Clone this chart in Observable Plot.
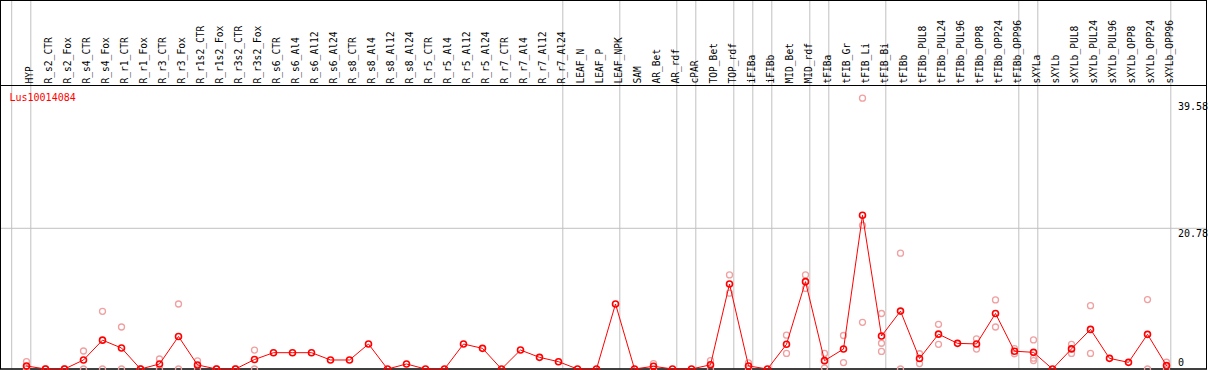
<!DOCTYPE html>
<html><head><meta charset="utf-8">
<script src="https://cdn.jsdelivr.net/npm/d3@7"></script>
<script src="https://cdn.jsdelivr.net/npm/@observablehq/plot@0.6"></script>
<style>body{margin:0;background:#fff} svg{display:block}</style>
</head><body><div id="chart"></div>
<script>
const geneId = "Lus10014084";
const samples = ["HYP","R_s2_CTR","R_s2_Fox","R_s4_CTR","R_s4_Fox","R_r1_CTR","R_r1_Fox","R_r3_CTR","R_r3_Fox",
  "R_r1s2_CTR","R_r1s2_Fox","R_r3s2_CTR","R_r3s2_Fox","R_s6_CTR","R_s6_Al4","R_s6_Al12","R_s6_Al24",
  "R_s8_CTR","R_s8_Al4","R_s8_Al12","R_s8_Al24","R_r5_CTR","R_r5_Al4","R_r5_Al12","R_r5_Al24",
  "R_r7_CTR","R_r7_Al4","R_r7_Al12","R_r7_Al24","LEAF_N","LEAF_P","LEAF_NPK","SAM","AR_Bet","AR_rdf",
  "cPAR","TOP_Bet","TOP_rdf","iFIBa","iFIBb","MID_Bet","MID_rdf","tFIBa","tFIB_Gr","tFIB_Li","tFIB_Bi",
  "tFIBb","tFIBb_PUL8","tFIBb_PUL24","tFIBb_PUL96","tFIBb_OPP8","tFIBb_OPP24","tFIBb_OPP96",
  "sXYLa","sXYLb","sXYLb_PUL8","sXYLb_PUL24","sXYLb_PUL96","sXYLb_OPP8","sXYLb_OPP24","sXYLb_OPP96"];
const means = [0.45,0,0,1.33,4.26,3.1,0,0.74,4.8,
  0.6,0,0,1.4,2.41,2.41,2.41,1.33,
  1.33,3.69,0,0.74,0,0,3.69,3.05,
  0,2.8,1.72,1.08,0,0,9.6,0,0.4,0,
  0,0.62,12.55,0.45,0,3.65,12.9,1.23,2.95,22.7,4.87,
  8.55,1.55,5.15,3.79,3.7,8.2,2.63,
  2.46,0,2.97,5.85,1.57,0.98,5.12,0.5];
const replicates = [[1.1,0.25,0],[0,0],[0,0],[2.66,0],[8.52,0],[6.2,0],[0,0],[1.48,0],[9.6,0],
  [1.2,0],[0,0],[0,0],[2.8,0],[],[],[],[],
  [],[],[],[],[],[],[],[],
  [],[],[],[],[],[],[],[],[0.8,0],[],
  [],[1.25,0],[13.9,11.2],[0.9,0],[],[5.0,2.3],[13.9,11.9],[2.3,0.15],[4.95,0.95],[40.0,21.2,6.9],[8.2,3.8,2.6],
  [17.1,0],[2.25,0.8],[6.6,3.65],[],[4.45,2.95],[10.2,6.2],[3.0,2.25],
  [4.3,1.6,1.25],[],[3.64,2.3],[9.35,2.3],[],[],[10.25,0],[1.0,0]];
const separators = ["HYP","R_r7_Al24","LEAF_NPK","AR_rdf","cPAR","TOP_rdf","iFIBa","iFIBb","MID_rdf","tFIBa","tFIB_Bi","tFIBb_OPP96","sXYLa","sXYLb_OPP96"];
const yTicks = [39.58, 20.78];
const yZero = [0];

const meanData = samples.map((s, i) => ({sample: s, value: means[i]}));
const repData = samples.flatMap((s, i) => replicates[i].map(v => ({sample: s, value: v})));
const font = "'DejaVu Sans Mono', monospace";

const chart = Plot.plot({
  width: 1209, height: 370,
  marginTop: 85, marginBottom: 1.5, marginLeft: 0, marginRight: 3,
  x: {type: "point", domain: samples, range: [25.4, 1166.1], padding: 0, axis: null},
  y: {domain: [0, 39.58], range: [368.5, 100.5], axis: null},
  style: {fontFamily: font, fontSize: "9.6px", background: "white", overflow: "visible"},
  marks: [
    Plot.ruleY([20.78], {stroke: "#c0c0c0"}),
    Plot.ruleX(separators, {dx: 4.3, stroke: "#c0c0c0", insetTop: -85}),
    Plot.ruleX([samples[0]], {dx: -14.8, stroke: "#c0c0c0", insetTop: -85}),
    Plot.frame({stroke: "black"}),
    Plot.frame({stroke: "black", insetTop: -85}),
    Plot.text(samples, {x: d => d, text: d => d, frameAnchor: "top", rotate: -90, textAnchor: "start", dy: -2, fill: "black"}),
    Plot.text([geneId], {text: d => d, frameAnchor: "top-left", textAnchor: "start", lineAnchor: "top", dx: 9, dy: 8, fill: "red", fontSize: 10}),
    Plot.text(yTicks, {y: d => d, text: d => String(d), frameAnchor: "right", textAnchor: "start", lineAnchor: "top", dx: -28.5, dy: 2, fill: "black", fontSize: 10}),
    Plot.text(yZero, {y: d => d, text: d => String(d), frameAnchor: "right", textAnchor: "start", lineAnchor: "bottom", dx: -28.5, dy: -3, fill: "black", fontSize: 10}),
    Plot.dot(repData, {x: "sample", y: "value", r: 3, stroke: "#f0a0a0", strokeWidth: 1.3}),
    Plot.line(meanData, {x: "sample", y: "value", stroke: "red", strokeWidth: 1}),
    Plot.dot(meanData, {x: "sample", y: "value", r: 3, stroke: "red", strokeWidth: 1.6})
  ]
});
document.getElementById("chart").appendChild(chart);
</script>
</body></html>
